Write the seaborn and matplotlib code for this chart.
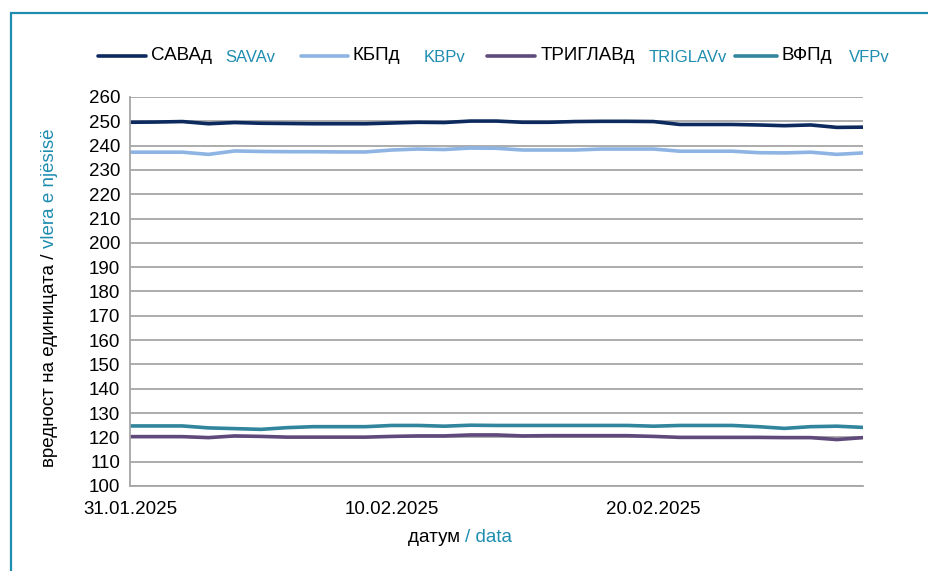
import pandas as pd
import numpy as np
import matplotlib
matplotlib.use('Agg')
import matplotlib.pyplot as plt
import matplotlib.dates as mdates
from matplotlib.lines import Line2D
from matplotlib.patches import Rectangle
import seaborn as sns

# daily values 31.01.2025 - 28.02.2025
dates = pd.date_range('2025-01-31', '2025-02-28', freq='D')
sava = [249.6, 249.7, 249.9, 249.0, 249.5, 249.2, 249.1, 249.0, 249.0, 249.0,
        249.3, 249.6, 249.5, 250.1, 250.1, 249.6, 249.6, 249.9, 250.0, 250.0,
        249.9, 248.7, 248.7, 248.7, 248.5, 248.2, 248.5, 247.5, 247.6]
kbp = [237.3, 237.3, 237.3, 236.4, 237.8, 237.6, 237.5, 237.5, 237.4, 237.4,
       238.2, 238.6, 238.4, 239.0, 238.9, 238.2, 238.2, 238.2, 238.6, 238.6,
       238.6, 237.7, 237.7, 237.7, 237.1, 237.0, 237.3, 236.4, 237.0]
triglav = [120.3, 120.3, 120.3, 119.9, 120.6, 120.4, 120.1, 120.1, 120.1, 120.1,
           120.4, 120.6, 120.6, 121.0, 121.0, 120.6, 120.7, 120.7, 120.7, 120.7,
           120.4, 120.0, 120.0, 120.0, 120.0, 119.9, 119.9, 119.1, 119.9]
vfp = [124.7, 124.7, 124.7, 123.9, 123.6, 123.3, 124.0, 124.4, 124.4, 124.4,
       124.9, 124.9, 124.6, 125.0, 124.9, 124.9, 124.9, 124.9, 124.9, 124.9,
       124.6, 124.9, 124.9, 124.9, 124.4, 123.7, 124.4, 124.6, 124.1]

names_mk = ['САВАд', 'КБПд', 'ТРИГЛАВд', 'ВФПд']
names_al = ['SAVAv', 'KBPv', 'TRIGLAVv', 'VFPv']
colors = ['#0C2A5E', '#8DB4E2', '#604A7B', '#31859C']
teal = '#1F8DB0'
xtick_dates = ['2025-01-31', '2025-02-10', '2025-02-20']

df = pd.DataFrame({'date': list(dates) * 4,
                   'value': sava + kbp + triglav + vfp,
                   'fund': np.repeat(names_mk, len(dates))})

sns.set_theme(style='white')
plt.rcParams['font.family'] = ['Liberation Sans', 'DejaVu Sans']

W, H = 929, 571
FS = 13.5
fig = plt.figure(figsize=(W / 100, H / 100), dpi=100)
ax = fig.add_axes([130 / W, 1 - 486 / H, (863 - 130) / W, (486 - 97) / H])

def px(x, y):
    return x / W, 1 - y / H

sns.lineplot(data=df, x='date', y='value', hue='fund', palette=dict(zip(names_mk, colors)),
             linewidth=2.6, ax=ax, legend=False)

ax.set_ylim(100, 260)
ax.set_yticks(range(100, 261, 10))
ax.set_xlim(dates[0], dates[-1])
ax.set_xticks(pd.to_datetime(xtick_dates))
ax.xaxis.set_major_formatter(mdates.DateFormatter('%d.%m.%Y'))
ax.yaxis.grid(True, color='#A6A6A6', linewidth=1.3)
ax.set_axisbelow(True)
for s in ['top', 'right']:
    ax.spines[s].set_visible(False)
for s in ['left', 'bottom']:
    ax.spines[s].set_color('#A6A6A6')
    ax.spines[s].set_linewidth(1.3)
ax.tick_params(axis='both', which='both', direction='out', length=4, width=1.1,
               color='#A6A6A6', labelsize=FS, labelcolor='black')
ax.tick_params(axis='y', pad=3)
ax.tick_params(axis='x', pad=7)
ax.set_xlabel('')
ax.set_ylabel('')

# legend drawn by hand (two-colour labels)
leg = [(98, 146, 151, 225), (301, 348, 353, 424), (487, 535, 541, 649), (735, 777, 782, 849)]
for (x0, x1, tx, ax_x), c, mk, al in zip(leg, colors, names_mk, names_al):
    fig.add_artist(Line2D([x0 / W, x1 / W], [1 - 56 / H] * 2, color=c, linewidth=2.6,
                          transform=fig.transFigure))
    fig.text(*px(tx, 56), mk, fontsize=FS, color='black', va='center', ha='left')
    fig.text(*px(ax_x, 57), al, fontsize=12, color=teal, va='center', ha='left')

# axis titles in two colours
fig.canvas.draw()
r = fig.canvas.get_renderer()
t1 = fig.text(*px(50, 467), 'вредност на единицата / ', rotation=90, fontsize=FS,
              color='black', ha='center', va='bottom')
bb = t1.get_window_extent(r)
fig.text(50 / W, bb.y1 / H, 'vlera e njësisë', rotation=90, fontsize=FS,
         color=teal, ha='center', va='bottom')

t2 = fig.text(*px(408, 538), 'датум ', fontsize=FS, color='black', ha='left', va='center')
bb = t2.get_window_extent(r)
fig.text(bb.x1 / W, 1 - 538 / H, '/ data', fontsize=FS, color=teal, ha='left', va='center')

# chart frame
fig.add_artist(Rectangle(px(11, 600), (960 - 11) / W, (600 - 13) / H, fill=False,
                         edgecolor=teal, linewidth=1.6, transform=fig.transFigure))

fig.savefig('out.png', dpi=100)
